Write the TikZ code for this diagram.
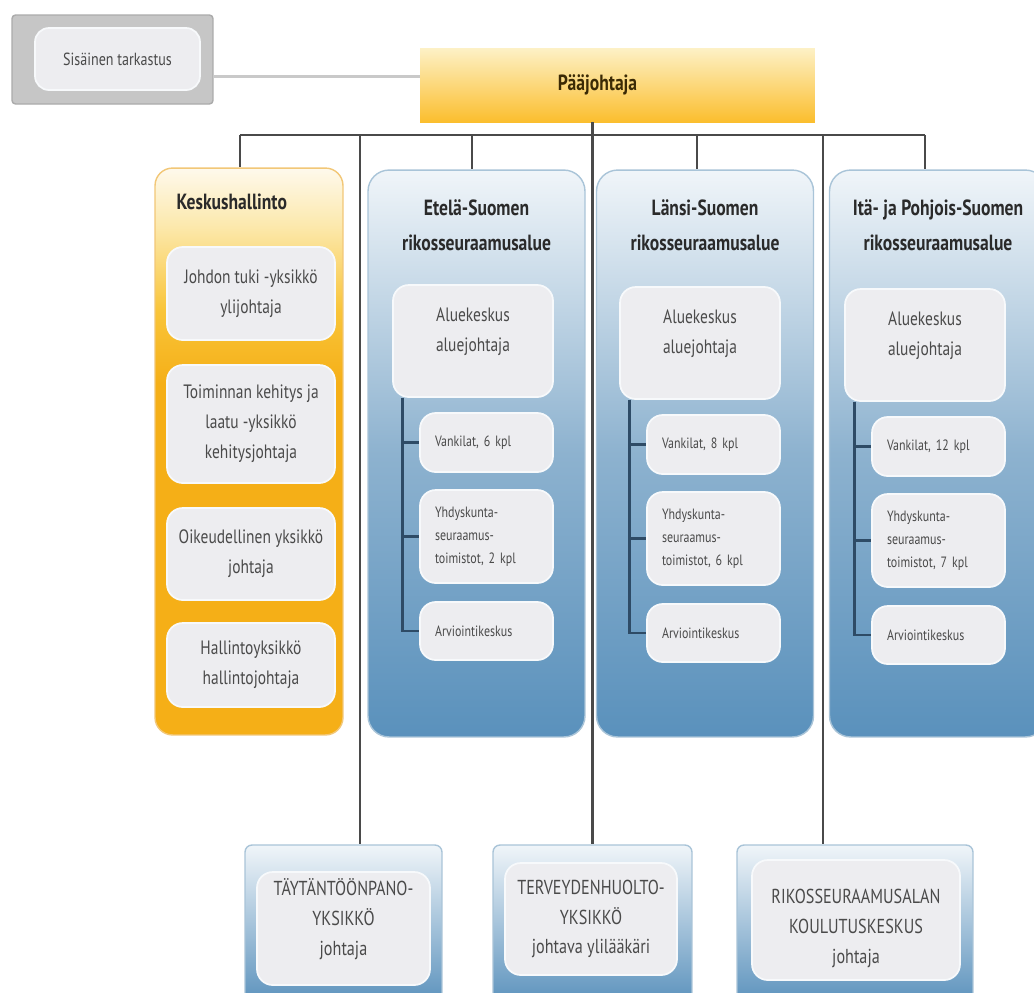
\documentclass[tikz,border=0pt]{standalone}
\usepackage{fontspec}
\setmainfont[FakeStretch=0.8]{PT Sans}
\usetikzlibrary{positioning}
\definecolor{busgray}{HTML}{4A4A4A}
\definecolor{linklight}{HTML}{C9C9C9}
\definecolor{sisgray}{HTML}{C6C6C6}
\definecolor{sisedge}{HTML}{ABABAB}
\definecolor{cardgray}{HTML}{EDEDF0}
\definecolor{cardedge}{HTML}{F7F9FB}
\definecolor{textgray}{HTML}{4A4A4A}
\definecolor{titledark}{HTML}{2A2A2A}
\definecolor{paatop}{HTML}{FDF1C6}
\definecolor{paabottom}{HTML}{FBBE2E}
\definecolor{paatext}{HTML}{3B2A05}
\definecolor{kesktop}{HTML}{FEF9EC}
\definecolor{kesklight}{HTML}{FCE9AE}
\definecolor{keskmid}{HTML}{F9C53A}
\definecolor{keskbottom}{HTML}{F5AF17}
\definecolor{keskedge}{HTML}{F2C777}
\definecolor{bluetop}{HTML}{F0F5F9}
\definecolor{bluemid}{HTML}{8DB2CF}
\definecolor{bluebottom}{HTML}{5A91BC}
\definecolor{blueedge}{HTML}{A9C4D8}
\definecolor{treeblue}{HTML}{2E4B66}
\pgfdeclareverticalshading{keskshade}{100bp}{color(0bp)=(keskbottom); color(25bp)=(keskbottom);
  color(56bp)=(keskbottom); color(62.5bp)=(keskmid); color(70bp)=(kesklight);
  color(75bp)=(kesktop); color(100bp)=(kesktop)}

\begin{document}
\begin{tikzpicture}[x=0.02cm, y=-0.02cm,
    bus/.style={draw=busgray, line width=1.4pt},
    link/.style={draw=linklight, line width=1.3pt},
    tree/.style={draw=treeblue, line width=1.6pt},
    sisbox/.style={fill=sisgray, draw=sisedge, line width=0.8pt, rounded corners=2pt,
        minimum width=4.02cm, minimum height=1.78cm},
    card/.style={fill=cardgray, draw=cardedge, line width=1pt, rounded corners=9pt,
        align=center, text=textgray, font=\fontsize{11}{17}\selectfont},
    smallcard/.style={card, align=left, font=\fontsize{8.5}{13}\selectfont,
        minimum width=2.66cm, text width=2.06cm},
    unitcard/.style={card, font=\fontsize{11.5}{17}\selectfont},
    paabox/.style={top color=paatop, bottom color=paabottom, minimum width=7.9cm,
        minimum height=1.48cm, text=paatext, font=\bfseries\fontsize{12.5}{15}\selectfont},
    keskbox/.style={shading=keskshade, draw=keskedge, line width=0.8pt, rounded corners=10pt,
        minimum width=3.76cm, minimum height=11.34cm},
    regbox/.style={top color=bluetop, bottom color=bluebottom, middle color=bluemid,
        draw=blueedge, line width=0.8pt, rounded corners=12pt,
        minimum width=4.34cm, minimum height=11.34cm},
    unitbox/.style={top color=bluetop, bottom color=bluebottom, draw=blueedge,
        line width=0.8pt, rounded corners=4pt, minimum height=3.2cm},
    boxtitle/.style={inner sep=0pt, align=center, text=titledark,
        font=\bfseries\fontsize{12.5}{20}\selectfont},
  ]
  \useasboundingbox (0,0) rectangle (1034,992);
  \clip (0,0) rectangle (1034,992);
  \fill[white] (0,0) rectangle (1034,992);

  % Sisäinen tarkastus
  \node[sisbox] (sis) at (112.5,59.5) {};
  \node[card, minimum width=3.3cm, minimum height=1.24cm, rounded corners=8pt,
    font=\fontsize{10}{12}\selectfont] (sisin) at (117.5,59) {Sisäinen tarkastus};

  % Pääjohtaja
  \node[paabox] (paa) at (617.5,85) {\hspace*{-0.8cm}Pääjohtaja};
  \draw[link] ([yshift=-0.34cm]sis.east) -- ([yshift=-0.34cm]sis.east -| paa.west);

  % Keskushallinto
  \node[keskbox] (kesk) at (249,451.5) {};
  \node[boxtitle, below right=0.52cm and 0.44cm of kesk.north west] (kesk-t) {Keskushallinto};
  \foreach \nm/\yy/\hh/\txt in {
      tuki/293.5/1.86cm/{Johdon tuki -yksikkö\\ylijohtaja},
      laatu/424/2.36cm/{Toiminnan kehitys ja\\laatu -yksikkö\\kehitysjohtaja},
      oik/554/1.84cm/{Oikeudellinen yksikkö\\johtaja},
      hallinto/665/1.68cm/{Hallintoyksikkö\\hallintojohtaja}} {
    \node[card, minimum width=3.36cm, minimum height=\hh] (\nm) at (251,\yy) {\txt};
  }

  % Rikosseuraamusalueet
  \foreach \nm/\rx/\ax/\dy/\ttl/\nv/\ny in {
      etela/476.5/393/0/{Etelä-Suomen\\rikosseuraamusalue}/6/2,
      lansi/705/620/2/{Länsi-Suomen\\rikosseuraamusalue}/8/6,
      ita/938/845/4/{Itä- ja Pohjois-Suomen\\rikosseuraamusalue}/12/7} {
    \node[regbox] (\nm) at (\rx,453.5) {};
    \node[boxtitle, below=0.6cm of \nm.north] (\nm-t) {\ttl};
    \node[card, minimum width=3.2cm, minimum height=2.24cm] (alu-\nm)
      at ({\ax+80},{341+\dy}) {Aluekeskus\\aluejohtaja\\[-0.15cm]};
    \node[smallcard, minimum height=1.18cm] (van-\nm)
      at ({\ax+93.5},{442.5+\dy}) {Vankilat, \nv\ kpl};
    \node[smallcard, minimum height=1.86cm] (yht-\nm)
      at ({\ax+93.5},{536.5+\dy}) {Yhdyskunta-\\seuraamus-\\toimistot, \ny\ kpl};
    \node[smallcard, minimum height=1.16cm] (arv-\nm)
      at ({\ax+93.5},{631+\dy}) {Arviointikeskus};
    \coordinate (tr-\nm) at ([xshift=0.2cm]alu-\nm.south west);
    \foreach \s in {van,yht,arv}
      \draw[tree] (tr-\nm) |- (\s-\nm.west);
  }

  % Erilliset yksiköt
  \foreach \nm/\ox/\ow/\ix/\iy/\iw/\ih/\txt in {
      tayt/343.5/3.94cm/343.5/928.5/3.46cm/2.26cm/{TÄYTÄNTÖÖNPANO-\\YKSIKKÖ\\johtaja\\[-0.15cm]},
      terv/592.5/3.98cm/591/919/3.44cm/2.24cm/{TERVEYDENHUOLTO-\\YKSIKKÖ\\johtava ylilääkäri},
      rikos/855/4.72cm/856/920/4.16cm/2.4cm/{\rule{0pt}{18pt}RIKOSSEURAAMUSALAN\\KOULUTUSKESKUS\\johtaja}} {
    \node[unitbox, minimum width=\ow] (\nm-box) at (\ox,925) {};
    \node[unitcard, minimum width=\iw, minimum height=\ih] (\nm) at (\ix,\iy) {\txt};
  }

  % Linjat
  \coordinate (busc) at (590,135);
  \coordinate (vl) at (360,135);
  \coordinate (vr) at (823,135);
  \draw[bus] ([xshift=-0.18cm]kesk.north |- busc) -- ([xshift=-0.26cm]ita.north |- busc);
  \foreach \b/\sh in {kesk/-0.18cm,etela/-0.09cm,lansi/-0.16cm,ita/-0.26cm}
    \draw[bus] ([xshift=\sh]\b.north |- busc) -- ([xshift=\sh]\b.north);
  \draw[bus] (paa.south -| terv-box.north) -- (terv-box.north);
  \draw[bus] (vl) -- (vl |- tayt-box.north);
  \draw[bus] (vr) -- (vr |- rikos-box.north);
\end{tikzpicture}
\end{document}
